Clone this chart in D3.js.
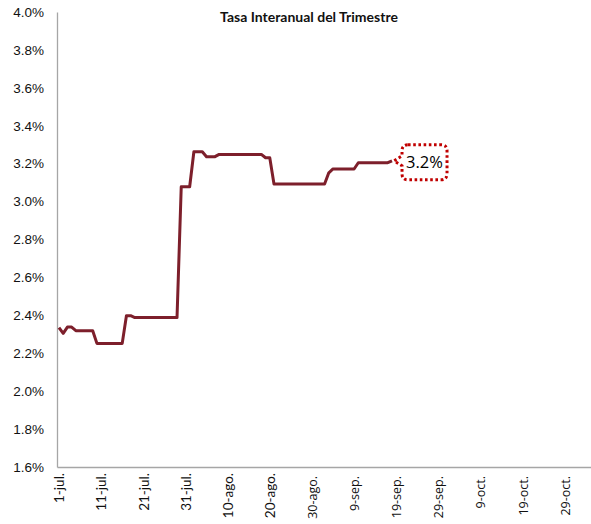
<!DOCTYPE html>
<html lang="es">
  <head>
    <meta charset="UTF-8" />
    <title>Tasa Interanual del Trimestre</title>
    <script src="https://cdn.jsdelivr.net/npm/d3@7"></script>
    <style>
      html,
      body {
        margin: 0;
        padding: 0;
        background: #fff;
      }
      svg {
        display: block;
        font-family: Lato, "Open Sans", sans-serif;
      }
    </style>
  </head>
  <body>
    <svg width="591" height="524"></svg>
    <script>
      // fechas y valores (%)
      const Dates = [
        '2019-07-01', '2019-07-02', '2019-07-03', '2019-07-04', '2019-07-05',
        '2019-07-09', '2019-07-10', '2019-07-16', '2019-07-17', '2019-07-18',
        '2019-07-19', '2019-07-29', '2019-07-30', '2019-08-01', '2019-08-02',
        '2019-08-04', '2019-08-05', '2019-08-07', '2019-08-08', '2019-08-18',
        '2019-08-19', '2019-08-20', '2019-08-21', '2019-09-02', '2019-09-03',
        '2019-09-04', '2019-09-09', '2019-09-10', '2019-09-17', '2019-09-18',
      ];
      const Values = [
        2.335, 2.305, 2.338, 2.338, 2.319,
        2.319, 2.252, 2.252, 2.398, 2.398,
        2.388, 2.388, 3.078, 3.078, 3.263,
        3.263, 3.237, 3.237, 3.249, 3.249,
        3.231, 3.231, 3.093, 3.093, 3.152,
        3.172, 3.172, 3.205, 3.205, 3.215,
      ];
      const YTicks = [1.6, 1.8, 2.0, 2.2, 2.4, 2.6, 2.8, 3.0, 3.2, 3.4, 3.6, 3.8, 4.0];
      const XTicks = [
        '2019-07-01', '2019-07-11', '2019-07-21', '2019-07-31', '2019-08-10',
        '2019-08-20', '2019-08-30', '2019-09-09', '2019-09-19', '2019-09-29',
        '2019-10-09', '2019-10-19', '2019-10-29',
      ];
      const MonthNames = ['ene', 'feb', 'mar', 'abr', 'may', 'jun', 'jul', 'ago', 'sep', 'oct', 'nov', 'dic'];
      const Title = 'Tasa Interanual del Trimestre';
      const CalloutText = '3.2%';

      const parse = d3.utcParse('%Y-%m-%d');
      const Data = Dates.map(function(d, i) {
        return { date: parse(d), value: Values[i] };
      });

      const day = 86400000;
      const start = parse('2019-07-01');
      const plotLeft = 57,
        plotRight = 591,
        plotTop = 12,
        plotBottom = 467;

      const XScale = d3
        .scaleUtc()
        .domain([new Date(+start - 0.47 * day), new Date(+start + 126.2 * day)])
        .range([plotLeft, plotRight]);
      const YScale = d3
        .scaleLinear()
        .domain([1.6, 4.0])
        .range([plotBottom, plotTop]);

      const svg = d3.select('svg');

      // eje Y
      const YAxis = d3
        .axisLeft(YScale)
        .tickValues(YTicks)
        .tickSize(0)
        .tickPadding(13)
        .tickFormat(function(d) {
          return d.toFixed(1) + '%';
        });
      svg
        .append('g')
        .attr('transform', 'translate(' + plotLeft + ',0)')
        .call(YAxis)
        .call(function(g) {
          g.select('.domain').attr('stroke', '#a6a6a6').attr('stroke-width', 1.3);
          g.selectAll('text').attr('font-size', 13.5).attr('fill', '#111');
        });

      // eje X (desde 30-ago. la fuente del original cambia)
      const XAxis = d3
        .axisBottom(XScale)
        .tickValues(XTicks.map(parse))
        .tickSize(0)
        .tickFormat(function(d) {
          return d.getUTCDate() + '-' + MonthNames[d.getUTCMonth()] + '.';
        });
      svg
        .append('g')
        .attr('transform', 'translate(0,' + plotBottom + ')')
        .call(XAxis)
        .call(function(g) {
          g.select('.domain').attr('stroke', '#a6a6a6').attr('stroke-width', 1.3);
          g.selectAll('text')
            .attr('font-size', function(d, i) {
              return i < 6 ? 13.5 : 12.5;
            })
            .attr('font-family', function(d, i) {
              return i < 6 ? 'Lato, sans-serif' : '"Open Sans", sans-serif';
            })
            .attr('fill', '#111')
            .attr('text-anchor', 'end')
            .attr('transform', 'rotate(-90)')
            .attr('x', function(d, i) {
              return i < 6 ? -6 : -9;
            })
            .attr('y', 0)
            .attr('dy', '0.35em');
        });

      // titulo
      svg
        .append('text')
        .attr('x', 309)
        .attr('y', 22)
        .attr('text-anchor', 'middle')
        .attr('font-size', 14)
        .attr('font-weight', 'bold')
        .attr('fill', '#111')
        .text(Title);

      // linea
      const line = d3
        .line()
        .x(function(d) {
          return XScale(d.date);
        })
        .y(function(d) {
          return YScale(d.value);
        });
      svg
        .append('path')
        .datum(Data)
        .attr('fill', 'none')
        .attr('stroke', '#7d1f2b')
        .attr('stroke-width', 3)
        .attr('stroke-linejoin', 'round')
        .attr('d', line);

      // etiqueta del ultimo dato
      const last = Data[Data.length - 1];
      const px = XScale(last.date),
        py = YScale(last.value);
      const bx = px + 10,
        by = py - 16,
        bw = 45,
        bh = 35,
        r = 6;
      const callout = d3.path();
      callout.moveTo(bx + r, by);
      callout.lineTo(bx + bw - r, by);
      callout.quadraticCurveTo(bx + bw, by, bx + bw, by + r);
      callout.lineTo(bx + bw, by + bh - r);
      callout.quadraticCurveTo(bx + bw, by + bh, bx + bw - r, by + bh);
      callout.lineTo(bx + r, by + bh);
      callout.quadraticCurveTo(bx, by + bh, bx, by + bh - r);
      callout.lineTo(bx, by + 21);
      callout.lineTo(px + 2, py);
      callout.lineTo(bx, by + 11);
      callout.lineTo(bx, by + r);
      callout.quadraticCurveTo(bx, by, bx + r, by);
      svg
        .append('path')
        .attr('d', callout.toString())
        .attr('fill', '#fff')
        .attr('stroke', '#c00000')
        .attr('stroke-width', 3)
        .attr('stroke-dasharray', '2.6 2.6');
      svg
        .append('text')
        .attr('x', bx + bw / 2)
        .attr('y', by + bh / 2)
        .attr('dy', '0.35em')
        .attr('text-anchor', 'middle')
        .attr('font-family', '"Open Sans", sans-serif')
        .attr('font-size', 16.5)
        .attr('fill', '#000')
        .text(CalloutText);
    </script>
  </body>
</html>
